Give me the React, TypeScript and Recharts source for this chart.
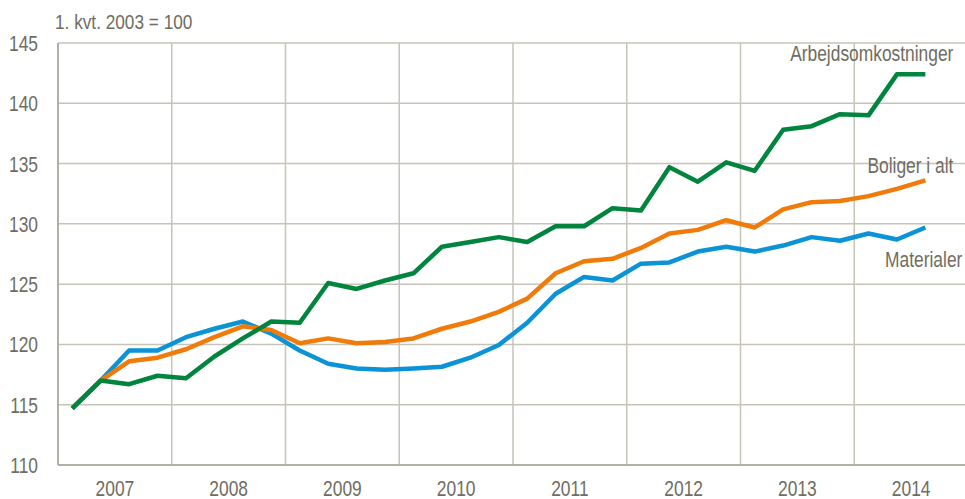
import React from "react";
import { LineChart, Line, XAxis, YAxis, CartesianGrid } from "recharts";

// quarter index (0 = 1. kvt. 2007), placed at the middle of each quarter
const QUARTERS = Array.from({ length: 31 }, (_, i) => i + 0.5);

const ARBEJD = [
  114.7, 117.0, 116.7, 117.4, 117.2, 119.0, 120.5, 121.9, 121.8, 125.1, 124.6,
  125.3, 125.9, 128.1, 128.5, 128.9, 128.5, 129.8, 129.8, 131.3, 131.1, 134.7,
  133.5, 135.1, 134.4, 137.8, 138.1, 139.1, 139.0, 142.4, 142.4,
];

const BOLIGER = [
  114.7, 117.0, 118.6, 118.9, 119.6, 120.6, 121.5, 121.2, 120.1, 120.5, 120.1,
  120.2, 120.5, 121.3, 121.9, 122.7, 123.8, 125.9, 126.9, 127.1, 128.0, 129.2,
  129.5, 130.3, 129.7, 131.2, 131.8, 131.9, 132.3, 132.9, 133.6,
];

const MATERIALER = [
  114.7, 117.0, 119.5, 119.5, 120.6, 121.3, 121.9, 120.9, 119.5, 118.4, 118.0,
  117.9, 118.0, 118.15, 118.9, 119.95, 121.8, 124.2, 125.6, 125.3, 126.7, 126.8,
  127.7, 128.1, 127.7, 128.2, 128.9, 128.6, 129.2, 128.7, 129.7,
];

const YEARS = [2007, 2008, 2009, 2010, 2011, 2012, 2013, 2014];
const YEAR_STARTS = [0, 4, 8, 12, 16, 20, 24, 28, 32];
const YEAR_MIDS = YEARS.map((_, i) => i * 4 + 2);
const Y_TICKS = [110, 115, 120, 125, 130, 135, 140, 145];

const data = QUARTERS.map((q, i) => ({
  q,
  arbejd: ARBEJD[i],
  boliger: BOLIGER[i],
  materialer: MATERIALER[i],
}));

// Liberation Sans squeezed horizontally stands in for Arial Narrow
const FONT = "'Liberation Sans', Arial, sans-serif";
const SQUEEZE = 0.79;
const FONT_SIZE = 22;
const TEXT = "#6f6d62";
const GRID = "#c6c3b9";
const AXIS = "#a9a699";

const GREEN = "#00843e";
const ORANGE = "#f07b0a";
const BLUE = "#0a93d6";

function NarrowText({ x, y, anchor, children }: any) {
  return (
    <text
      transform={`translate(${x},${y}) scale(${SQUEEZE},1)`}
      textAnchor={anchor}
      fontSize={FONT_SIZE}
      fill={TEXT}
      fontFamily={FONT}
    >
      {children}
    </text>
  );
}

const XTick = ({ x, y, payload }: any) => (
  <NarrowText x={x} y={y + 31} anchor="middle">
    {YEARS[(payload.value - 2) / 4]}
  </NarrowText>
);

const YTick = ({ x, y, payload }: any) => (
  <NarrowText x={x} y={y + 8} anchor="end">
    {payload.value}
  </NarrowText>
);

const endLabel = (text: string, dx: number, dy: number) => (props: any) => {
  const { x, y, index } = props;
  if (index !== QUARTERS.length - 1) return null;
  return (
    <NarrowText x={x + dx} y={y + dy} anchor="end">
      {text}
    </NarrowText>
  );
};

export default function App() {
  return (
    <div style={{ position: "absolute", left: 0, top: 0, width: 965, height: 499, overflow: "hidden", background: "#fff" }}>
      <div
        style={{
          position: "absolute",
          left: 55,
          top: 10,
          fontFamily: FONT,
          fontSize: 21,
          color: TEXT,
          whiteSpace: "nowrap",
          transform: "scaleX(0.82)",
          transformOrigin: "left top",
        }}
      >
        1. kvt. 2003 = 100
      </div>
      <LineChart width={975} height={499} data={data} margin={{ top: 43, right: 7, bottom: 0, left: 0 }}>
        <CartesianGrid stroke={GRID} strokeWidth={1.5} verticalValues={YEAR_STARTS} />
        <XAxis
          dataKey="q"
          type="number"
          domain={[0, 32]}
          ticks={YEAR_MIDS}
          interval={0}
          height={34}
          tickLine={false}
          tickSize={0}
          tickMargin={0}
          stroke={AXIS}
          strokeWidth={1.5}
          tick={<XTick />}
        />
        <YAxis
          domain={[110, 145]}
          ticks={Y_TICKS}
          interval={0}
          width={58}
          tickLine={false}
          tickSize={0}
          tickMargin={20}
          stroke={AXIS}
          strokeWidth={1.5}
          tick={<YTick />}
        />
        <Line
          dataKey="materialer"
          stroke={BLUE}
          strokeWidth={4.5}
          dot={false}
          strokeLinejoin="round"
          isAnimationActive={false}
          label={endLabel("Materialer", 37, 40)}
        />
        <Line
          dataKey="boliger"
          stroke={ORANGE}
          strokeWidth={4.5}
          dot={false}
          strokeLinejoin="round"
          isAnimationActive={false}
          label={endLabel("Boliger i alt", 28, -7)}
        />
        <Line
          dataKey="arbejd"
          stroke={GREEN}
          strokeWidth={4.5}
          dot={false}
          strokeLinejoin="round"
          isAnimationActive={false}
          label={endLabel("Arbejdsomkostninger", 28, -13)}
        />
      </LineChart>
    </div>
  );
}
